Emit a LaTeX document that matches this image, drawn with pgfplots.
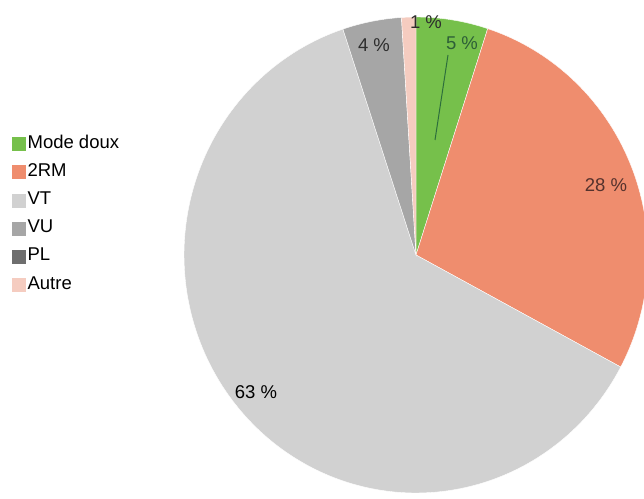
\documentclass[border=0pt]{standalone}
\usepackage{pgfplots}
\usepackage{pgfplotstable}
\pgfplotsset{compat=1.18}
\usepackage{fontspec}
\setmainfont{Liberation Sans}
\definecolor{cMode}{RGB}{118,192,75}
\definecolor{cRM}{RGB}{239,141,110}
\definecolor{cVT}{RGB}{209,209,209}
\definecolor{cVU}{RGB}{166,166,166}
\definecolor{cPL}{RGB}{110,110,110}
\definecolor{cAutre}{RGB}{245,204,192}
\definecolor{ctxt}{RGB}{45,45,45}
\pgfplotstableread{
cat val
Modedoux 5.0
2RM 27.8
VT 62.1
VU 4.1
PL 0.0
Autre 1.0
}\pietable
\pgfplotstablegetelem{0}{val}\of\pietable \let\vA\pgfplotsretval
\pgfplotstablegetelem{1}{val}\of\pietable \let\vB\pgfplotsretval
\pgfplotstablegetelem{2}{val}\of\pietable \let\vC\pgfplotsretval
\pgfplotstablegetelem{3}{val}\of\pietable \let\vD\pgfplotsretval
\pgfplotstablegetelem{4}{val}\of\pietable \let\vE\pgfplotsretval
\pgfplotstablegetelem{5}{val}\of\pietable \let\vF\pgfplotsretval
\pgfmathsetmacro\aA{3.6*\vA}
\pgfmathsetmacro\aB{\aA+3.6*\vB}
\pgfmathsetmacro\aC{\aB+3.6*\vC}
\pgfmathsetmacro\aD{\aC+3.6*\vD}
\pgfmathsetmacro\aE{\aD+3.6*\vE}
\pgfmathsetmacro\aF{\aE+3.6*\vF}
\def\cx{416}\def\cy{243}\def\rx{232}\def\ry{238}
\begin{document}
\begin{tikzpicture}
\begin{axis}[
  width=644pt, height=498pt, scale only axis,
  xmin=0, xmax=644, ymin=0, ymax=498,
  hide axis, clip=true,
  legend style={at={(axis cs:12,363)}, anchor=north west, draw=none, fill=none,
    font=\fontsize{18.5}{21}\selectfont, row sep=10.7pt, inner sep=0pt,
    nodes={inner xsep=2pt, inner ysep=1pt, text height=12pt, text depth=3.5pt}},
  legend cell align=left,
]
\addplot[forget plot, fill=cMode, draw=white, line width=0.4pt, domain=0:\aA, samples=40]
  ({\cx+\rx*sin(x)},{\cy+\ry*cos(x)}) -- (axis cs:\cx,\cy) -- cycle;
\addplot[forget plot, fill=cRM, draw=white, line width=0.4pt, domain=\aA:\aB, samples=80]
  ({\cx+\rx*sin(x)},{\cy+\ry*cos(x)}) -- (axis cs:\cx,\cy) -- cycle;
\addplot[forget plot, fill=cVT, draw=white, line width=0.4pt, domain=\aB:\aC, samples=150]
  ({\cx+\rx*sin(x)},{\cy+\ry*cos(x)}) -- (axis cs:\cx,\cy) -- cycle;
\addplot[forget plot, fill=cVU, draw=white, line width=0.4pt, domain=\aC:\aD, samples=30]
  ({\cx+\rx*sin(x)},{\cy+\ry*cos(x)}) -- (axis cs:\cx,\cy) -- cycle;
\addplot[forget plot, fill=cAutre, draw=white, line width=0.4pt, domain=\aE:\aF, samples=10]
  ({\cx+\rx*sin(x)},{\cy+\ry*cos(x)}) -- (axis cs:\cx,\cy) -- cycle;
% leader line
\addplot[forget plot, draw={rgb,255:red,45;green,110;blue,60}, line width=1pt] coordinates {(448,443) (435,358)};
% legend
\addlegendimage{legend image code/.code={\fill[cMode] (0pt,-6.5pt) rectangle (13pt,6.5pt);}}
\addlegendentry{Mode doux}
\addlegendimage{legend image code/.code={\fill[cRM] (0pt,-6.5pt) rectangle (13pt,6.5pt);}}
\addlegendentry{2RM}
\addlegendimage{legend image code/.code={\fill[cVT] (0pt,-6.5pt) rectangle (13pt,6.5pt);}}
\addlegendentry{VT}
\addlegendimage{legend image code/.code={\fill[cVU] (0pt,-6.5pt) rectangle (13pt,6.5pt);}}
\addlegendentry{VU}
\addlegendimage{legend image code/.code={\fill[cPL] (0pt,-6.5pt) rectangle (13pt,6.5pt);}}
\addlegendentry{PL}
\addlegendimage{legend image code/.code={\fill[cAutre] (0pt,-6.5pt) rectangle (13pt,6.5pt);}}
\addlegendentry{Autre}
% labels
\node[text=ctxt, font=\fontsize{18.5}{21}\selectfont] at (axis cs:426,476) {1 \%};
\node[text={rgb,255:red,45;green,95;blue,55}, font=\fontsize{18.5}{21}\selectfont] at (axis cs:462,455) {5 \%};
\node[text=ctxt, font=\fontsize{18.5}{21}\selectfont] at (axis cs:374,453) {4 \%};
\node[text={rgb,255:red,85;green,50;blue,45}, font=\fontsize{18.5}{21}\selectfont] at (axis cs:606,313) {28 \%};
\node[text=black, font=\fontsize{18.5}{21}\selectfont] at (axis cs:256,106) {63 \%};
\end{axis}
\path (current axis.south west) rectangle (current axis.north east);
\end{tikzpicture}
\end{document}
